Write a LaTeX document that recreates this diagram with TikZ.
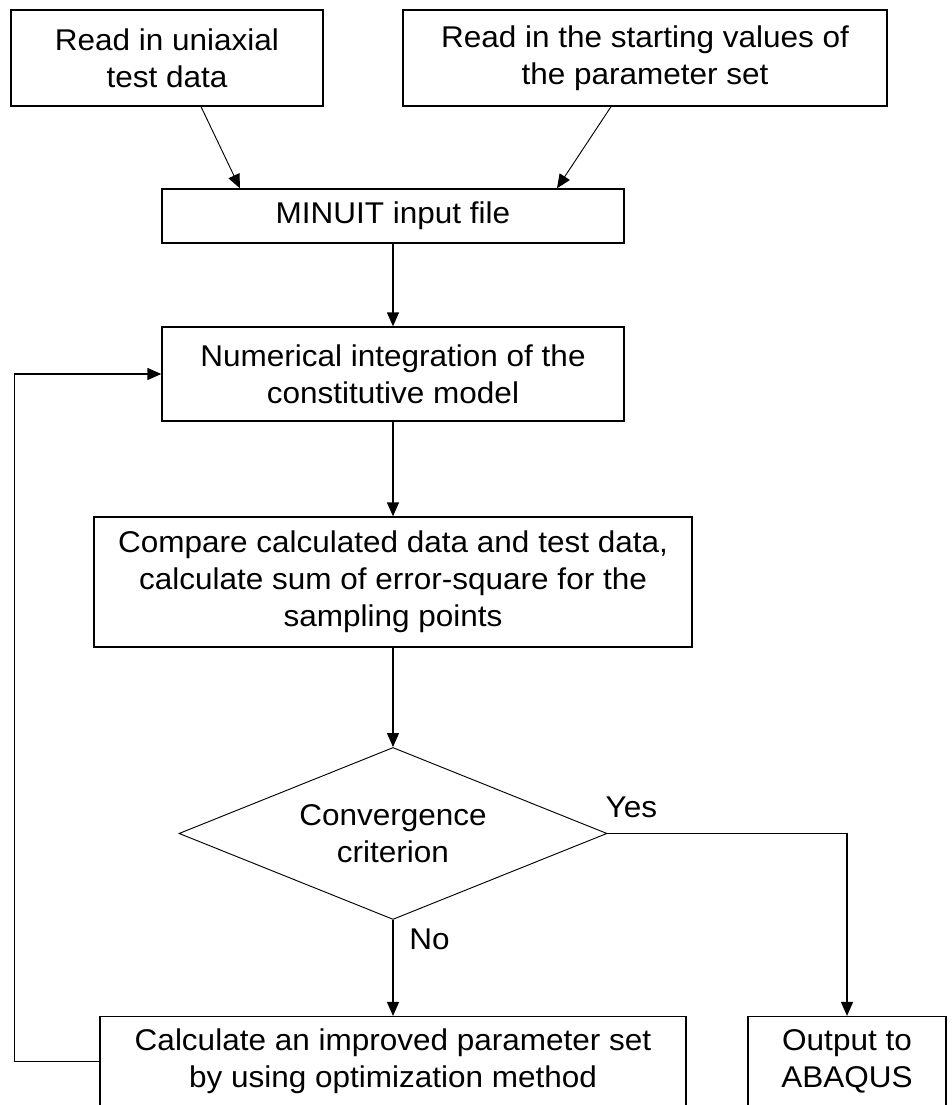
\documentclass[tikz,border=0pt]{standalone}
\usepackage{fontspec}
\setmainfont{Liberation Sans}[FakeStretch=1.05]
\usetikzlibrary{arrows.meta,positioning,shapes.geometric}

\begin{document}
\begin{tikzpicture}[
    x=0.75pt, y=-0.75pt,
    font=\fontsize{22.5pt}{27.75pt}\selectfont,
    >={Triangle[length=10.5pt, width=9pt]},
    box/.style={draw, line width=1pt, align=center, inner sep=0pt},
    decision/.style={diamond, aspect=2.5, draw, line width=0.7pt, align=center,
                     inner sep=0pt, minimum width=321pt, minimum height=129pt},
    flow/.style={->, line width=1pt},
    slant/.style={->, line width=0.7pt},
    lbl/.style={inner sep=0pt}
]
\useasboundingbox (0,0) rectangle (951,1105);
\node[box, minimum width=234pt, minimum height=72pt] (uniax) at (167,58)
    {Read in uniaxial\\test data};
\node[box, minimum width=363pt, minimum height=72pt] (start) at (645,58)
    {Read in the starting values of\\the parameter set};
\node[box, minimum width=346.5pt, minimum height=40.5pt] (minuit) at (393,216)
    {MINUIT input file};
\node[box, minimum width=346.5pt, minimum height=70.5pt, below=62pt of minuit] (numint)
    {Numerical integration of the\\constitutive model};
\node[box, minimum width=448.5pt, minimum height=97.5pt, below=71pt of numint] (compare)
    {Compare calculated data and test data,\\calculate sum of error-square for the\\sampling points};
\node[decision, below=74.5pt of compare] (conv) {Convergence\\criterion};
\node[box, minimum width=439.5pt, minimum height=67.5pt, below=72pt of conv] (improve)
    {Calculate an improved parameter set\\by using optimization method};
\node[box, minimum width=148.5pt, minimum height=67.5pt, right=45.5pt of improve] (abaqus)
    {Output to\\ABAQUS};
\draw[slant] ([shift={(34,0)}]uniax.south) -- ([shift={(-153,0)}]minuit.north);
\draw[slant] ([shift={(-34,0)}]start.south) -- ([shift={(164,0)}]minuit.north);
\draw[flow] (minuit) -- (numint);
\draw[flow] (numint) -- (compare);
\draw[flow] (compare) -- (conv);
\draw[flow] (conv) -- (improve);
\draw[flow] (conv.east) -| (abaqus.north);
\draw[flow] (improve.west) -- ++(-85,0) |- (numint.west);
\node[lbl, anchor=base west] (yes) at ([shift={(-2,-16)}]conv.east) {Yes};
\node[lbl, anchor=base west] (no) at ([shift={(16,30)}]conv.south) {No};
\end{tikzpicture}
\end{document}
